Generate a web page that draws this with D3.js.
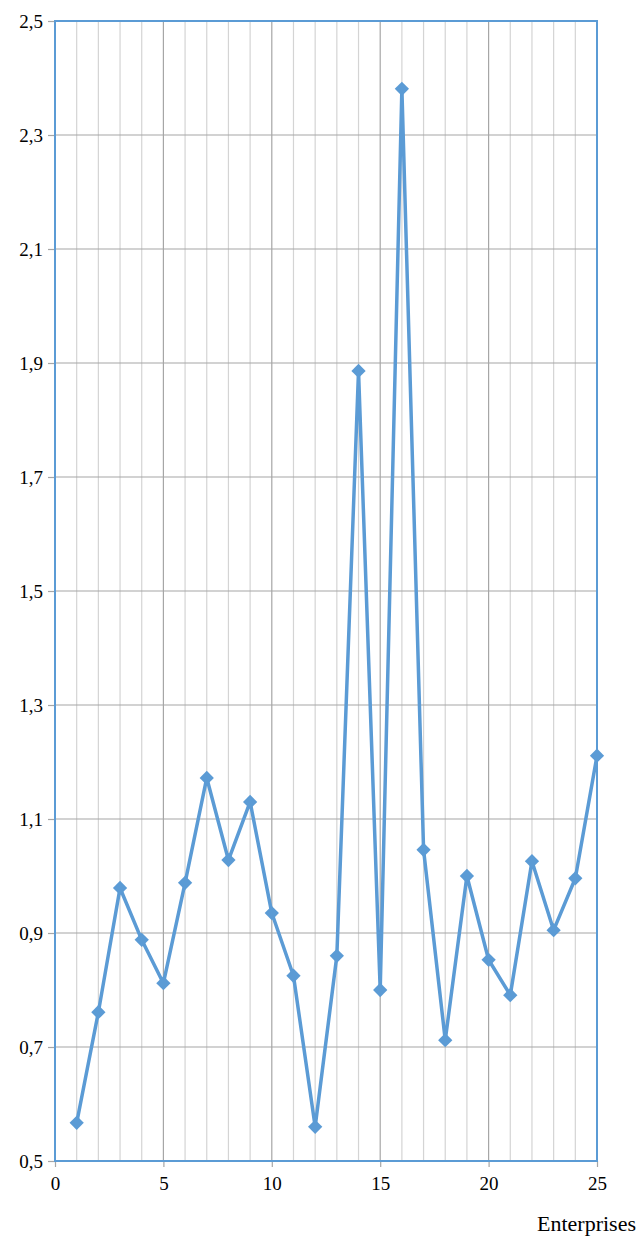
<!DOCTYPE html>
<html>
<head>
<meta charset="utf-8">
<script src="https://cdn.jsdelivr.net/npm/d3@7"></script>
<style>
  body { margin: 0; background: #fff; }
  svg text { font-family: 'Liberation Serif', 'Times New Roman', serif !important; }
</style>
</head>
<body>
<div id="chart"></div>
<script>
const enterprises = [1, 2, 3, 4, 5, 6, 7, 8, 9, 10, 11, 12, 13, 14, 15, 16, 17, 18, 19, 20, 21, 22, 23, 24, 25]
const values = [0.567, 0.761, 0.979, 0.888, 0.812, 0.988, 1.172, 1.028, 1.130, 0.935, 0.825, 0.560, 0.860,
    1.886, 0.800, 2.381, 1.046, 0.712, 1.000, 0.853, 0.791, 1.026, 0.905, 0.996, 1.211]
const yTicks = [0.5, 0.7, 0.9, 1.1, 1.3, 1.5, 1.7, 1.9, 2.1, 2.3, 2.5]
const xTicks = [0, 5, 10, 15, 20, 25]
const xLabel = "Enterprises"

const margin = {top: 21, right: 40, bottom: 75, left: 55},
    width = 637 - margin.left - margin.right,
    height = 1236 - margin.top - margin.bottom

const blue = "#5b9bd5"

const svg = d3.select("#chart")
    .append("svg")
    .attr("width", 637)
    .attr("height", 1236)
    .append("g")
    .attr("transform", `translate(${margin.left}, ${margin.top})`)

const x = d3.scaleLinear().domain([0, 25]).range([0, width])
const y = d3.scaleLinear().domain([0.5, 2.5]).range([height, 0])

// minor vertical grid (every unit)
svg.append("g")
    .selectAll("line")
    .data(d3.range(1, 25).filter(d => d % 5 !== 0))
    .join("line")
    .attr("x1", d => x(d)).attr("x2", d => x(d))
    .attr("y1", 0).attr("y2", height)
    .style("stroke", "#d4d4d4")
    .style("stroke-width", 1.2)

// major vertical grid
svg.append("g")
    .selectAll("line")
    .data(xTicks.filter(d => d > 0 && d < 25))
    .join("line")
    .attr("x1", d => x(d)).attr("x2", d => x(d))
    .attr("y1", 0).attr("y2", height)
    .style("stroke", "#a6a6a6")
    .style("stroke-width", 1.2)

// horizontal grid
svg.append("g")
    .selectAll("line")
    .data(yTicks.slice(1, -1))
    .join("line")
    .attr("x1", 0).attr("x2", width)
    .attr("y1", d => y(d)).attr("y2", d => y(d))
    .style("stroke", "#a6a6a6")
    .style("stroke-width", 1.2)

// y axis
const yAxis = svg.append("g")
    .call(d3.axisLeft(y).tickValues(yTicks).tickSize(7).tickPadding(5)
        .tickFormat(d => d3.format(".1f")(d).replace(".", ",")))
    .attr("font-family", "Liberation Serif")
    .attr("font-size", 19)
yAxis.select(".domain").remove()
yAxis.selectAll(".tick line").style("stroke", "#a6a6a6").style("stroke-width", 1.2)
yAxis.selectAll("text").attr("fill", "#000")

// x axis
const xAxis = svg.append("g")
    .attr("transform", `translate(0, ${height})`)
    .call(d3.axisBottom(x).tickValues(xTicks).tickSize(6).tickPadding(10))
    .attr("font-family", "Liberation Serif")
    .attr("font-size", 19)
xAxis.select(".domain").remove()
xAxis.selectAll(".tick line").style("stroke", "#a6a6a6").style("stroke-width", 1.2)
xAxis.selectAll("text").attr("fill", "#000")

// plot frame
svg.append("rect")
    .attr("x", 0).attr("y", 0)
    .attr("width", width).attr("height", height)
    .style("fill", "none")
    .style("stroke", blue)
    .style("stroke-width", 2)

// series line
const line = d3.line()
    .x((d, i) => x(enterprises[i]))
    .y(d => y(d))

svg.append("path")
    .datum(values)
    .attr("d", line)
    .style("fill", "none")
    .style("stroke", blue)
    .style("stroke-width", 3.5)
    .style("stroke-linejoin", "round")

svg.selectAll(".marker")
    .data(values)
    .join("path")
    .attr("class", "marker")
    .attr("transform", (d, i) => `translate(${x(enterprises[i])}, ${y(d)})`)
    .attr("d", d3.symbol().type(d3.symbolDiamond2).size(130))
    .style("fill", blue)

svg.append("text")
    .attr("x", 637 - margin.left - 1)
    .attr("y", 1231 - margin.top)
    .text(xLabel)
    .attr("font-size", "22px")
    .attr("fill", "#000")
    .style("text-anchor", "end")
</script>
</body>
</html>
